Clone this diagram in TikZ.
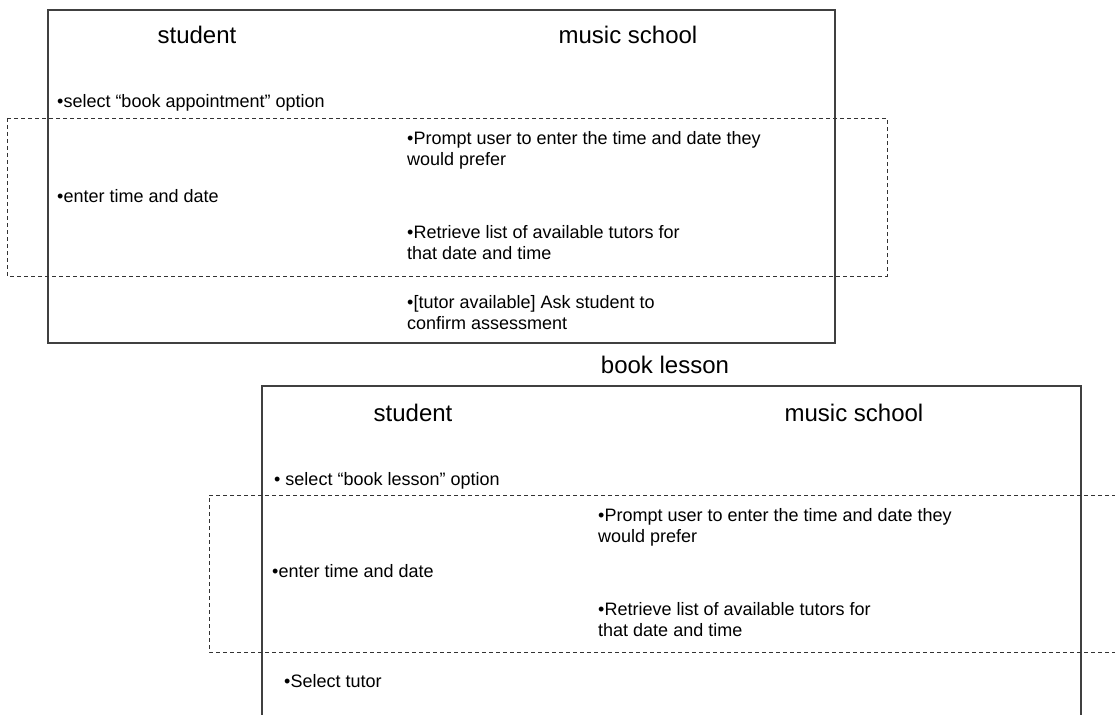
\documentclass[tikz,border=0pt]{standalone}
\usepackage{fontspec}
\setmainfont{Liberation Sans}
\begin{document}
\begin{tikzpicture}[x=1pt,y=-1pt,
  frame/.style={draw=black!75,line width=1.2pt},
  region/.style={draw=black!80,dashed,line width=0.8pt,dash pattern=on 4pt off 3pt},
  head/.style={inner sep=0pt,anchor=base,font=\fontsize{24}{28}\selectfont},
  item/.style={inner sep=0pt,anchor=base west,align=left,font=\fontsize{18}{21}\selectfont}]
\useasboundingbox (0,0) rectangle (1115,714);
\clip (0,0) rectangle (1115,714);

% book appointment (multi-line items are placed by their last baseline)
\draw[frame] (48,10) rectangle (835,343);
\draw[region] (7,118) rectangle (887,276);
\node[head] (s1) at (197,44) {student};
\node[head] (m1) at (628,44) {music school};
\node[item] (a1) at (57,108) {•select “book appointment” option};
\node[item] (a2) at (407,166) {•Prompt user to enter the time and date they\\would prefer};
\node[item] (a3) at (57,202) {•enter time and date};
\node[item] (a4) at (407,259) {•Retrieve list of available tutors for\\that date and time};
\node[item] (a5) at (407,329) {•[tutor available] Ask student to\\confirm assessment};

% book lesson
\node[head] (t2) at (665,373) {book lesson};
\draw[frame] (262,730) -- (262,386) -- (1081,386) -- (1081,730);
\draw[region] (1130,495) -- (209,495) -- (209,652) -- (1130,652);
\node[head] (s2) at (413,421) {student};
\node[head] (m2) at (854,421) {music school};
\node[item] (b1) at (274,485) {• select “book lesson” option};
\node[item] (b2) at (598,542) {•Prompt user to enter the time and date they\\would prefer};
\node[item] (b3) at (272,577) {•enter time and date};
\node[item] (b4) at (598,636) {•Retrieve list of available tutors for\\that date and time};
\node[item] (b5) at (284,687) {•Select tutor};
\end{tikzpicture}
\end{document}
